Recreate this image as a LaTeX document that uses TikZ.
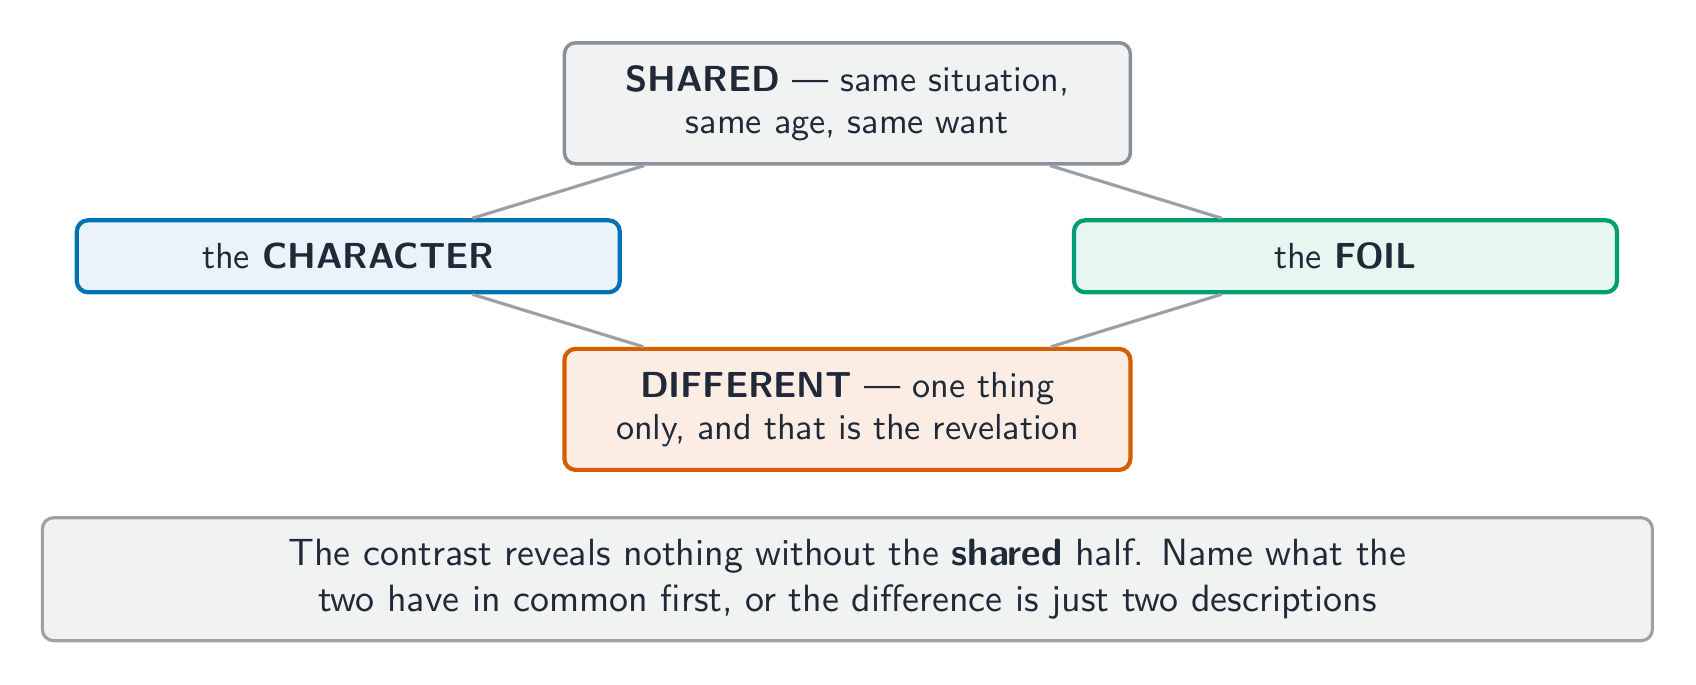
\documentclass[tikz,border=0pt]{standalone}
\usepackage{tikz}
\usetikzlibrary{calc}
\renewcommand{\familydefault}{\sfdefault}
\definecolor{ink}{HTML}{1F2937}
\definecolor{greyline}{HTML}{8A9099}
\definecolor{greyfill}{HTML}{F1F2F2}
\definecolor{wire}{HTML}{9CA0A6}
\definecolor{charline}{HTML}{0072B2}
\definecolor{charfill}{HTML}{EAF2FA}
\definecolor{foilline}{HTML}{009E73}
\definecolor{foilfill}{HTML}{E8F6F1}
\definecolor{diffline}{HTML}{D55E00}
\definecolor{difffill}{HTML}{FBEDE4}
\newcommand{\bd}{\textbf}
\tikzset{
  box/.style={draw,line width=1.2pt,rounded corners=3.2pt,align=center,text=ink,inner sep=0pt,font=\fontsize{10.3}{12}\selectfont},
  bigbox/.style={box,minimum width=5.66cm,minimum height=1.21cm},
  sidebox/.style={box,minimum width=5.43cm,minimum height=0.72cm},
  link/.style={draw=wire,line width=0.9pt}
}

\begin{document}
\begin{tikzpicture}
    \useasboundingbox (0,0) rectangle (16.96,-6.85);
    \node[bigbox,draw=greyline,fill=greyfill,line width=1pt] (SH) at (8.474,-1.033) {\bd{SHARED} --- same situation,\\ same age, same want};
    \node[sidebox,draw=charline,fill=charfill] (CH) at (3.483,-2.563) {the \bd{CHARACTER}};
    \node[sidebox,draw=foilline,fill=foilfill] (FO) at (13.455,-2.563) {the \bd{FOIL}};
    \node[bigbox,draw=diffline,fill=difffill] (DF) at (8.474,-4.094) {\bd{DIFFERENT} --- one thing\\ only, and that is the revelation};
    \node[box,draw=greyline!85,fill=greyfill,line width=0.9pt,minimum width=16.10cm,minimum height=1.23cm,font=\fontsize{10.8}{13}\selectfont] (NT) at (8.474,-5.792)
      {The contrast reveals nothing without the \bd{shared} half. Name what the\\ two have in common first, or the difference is just two descriptions};
    \draw[link] (SH)--(CH);
    \draw[link] (SH)--(FO);
    \draw[link] (CH)--(DF);
    \draw[link] (FO)--(DF);
  \end{tikzpicture}
\end{document}
